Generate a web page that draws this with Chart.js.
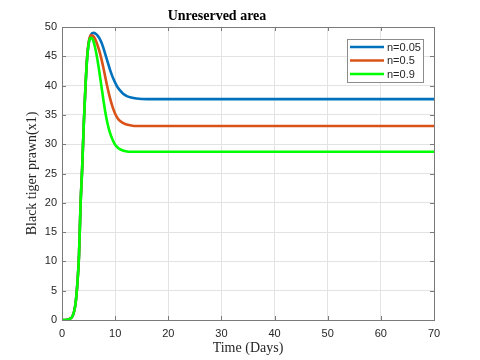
<!DOCTYPE html>
<html>
<head>
<meta charset="utf-8">
<script src="https://cdn.jsdelivr.net/npm/chart.js@4"></script>
<style>
  html, body { margin: 0; padding: 0; background: #fff; }
  #wrap { width: 480px; height: 360px; }
</style>
</head>
<body>
<div id="wrap"><canvas id="c" width="480" height="360"></canvas></div>
<script>
// ---- data ----
const seriesLabels = ['n=0.05', 'n=0.5', 'n=0.9'];

const tBlue = [0, 1, 1.5, 2, 2.5, 2.9, 3.2, 3.5, 3.8, 4.1, 4.4, 4.75, 5.05, 5.4, 5.9, 6.4, 6.8, 7.15, 7.5, 7.8, 8.1, 8.4, 8.7, 9.0, 9.3, 9.65, 10.0, 10.4, 10.9, 11.5, 12.2, 13.0, 14.0, 16.0, 20, 30, 40, 50, 60, 70];
const yBlue = [0, 0.05, 0.2, 0.7, 2.5, 6.3, 11.0, 19.9, 26.0, 33.5, 39.5, 45.0, 47.4, 48.6, 49.0, 48.8, 48.4, 47.9, 47.2, 46.4, 45.5, 44.6, 43.7, 42.8, 42.0, 41.2, 40.5, 39.8, 39.2, 38.6, 38.2, 37.95, 37.8, 37.7, 37.7, 37.7, 37.7, 37.7, 37.7, 37.7];

const tOrange = [0, 1, 1.5, 2, 2.5, 2.9, 3.2, 3.5, 3.8, 4.1, 4.4, 4.7, 5.0, 5.4, 5.8, 6.2, 6.6, 7.0, 7.4, 7.8, 8.2, 8.6, 9.0, 9.5, 10.0, 10.5, 11.0, 12.0, 13.0, 14.0, 20, 30, 40, 50, 60, 70];
const yOrange = [0, 0.05, 0.2, 0.7, 2.5, 6.3, 11.0, 19.9, 26.0, 33.5, 39.5, 44.6, 47.3, 48.6, 48.5, 48.0, 47.1, 46.0, 44.6, 43.0, 41.2, 39.5, 38.0, 36.4, 35.2, 34.4, 33.9, 33.4, 33.2, 33.1, 33.1, 33.1, 33.1, 33.1, 33.1, 33.1];

const tGreen = [0, 1, 1.5, 2, 2.5, 2.9, 3.2, 3.5, 3.8, 4.1, 4.4, 4.7, 5.0, 5.3, 5.6, 5.9, 6.2, 6.6, 7.0, 7.4, 7.8, 8.2, 8.6, 9.0, 9.5, 10.0, 10.5, 11.0, 12.0, 13.0, 20, 30, 40, 50, 60, 70];
const yGreen = [0, 0.05, 0.2, 0.7, 2.5, 6.3, 11.0, 19.9, 26.0, 33.5, 39.5, 44.3, 47.0, 48.1, 48.1, 47.6, 46.6, 44.8, 42.5, 40.0, 37.5, 35.2, 33.4, 32.0, 30.8, 29.9, 29.4, 29.1, 28.8, 28.7, 28.7, 28.7, 28.7, 28.7, 28.7, 28.7];

const xTicks = [0, 10, 20, 30, 40, 50, 60, 70];
const yTicks = [0, 5, 10, 15, 20, 25, 30, 35, 40, 45, 50];

const colors = ['#0072BD', '#D95319', '#00FF00'];

function toPoints(ts, ys) {
    return ts.map((t, i) => ({ x: t, y: ys[i] }));
}

// ---- plugin: MATLAB style box, inner ticks, legend ----
const matlabBox = {
    id: 'matlabBox',
    afterDatasetsDraw(chart) {
        const { ctx, chartArea: a, scales } = chart;
        ctx.save();
        ctx.strokeStyle = '#7a7a7a';
        ctx.lineWidth = 1;
        ctx.beginPath();
        xTicks.forEach(v => {
            const px = Math.round(scales.x.getPixelForValue(v)) + 0.5;
            ctx.moveTo(px, a.bottom); ctx.lineTo(px, a.bottom - 4);
            ctx.moveTo(px, a.top); ctx.lineTo(px, a.top + 4);
        });
        yTicks.forEach(v => {
            const py = Math.round(scales.y.getPixelForValue(v)) + 0.5;
            ctx.moveTo(a.left, py); ctx.lineTo(a.left + 4, py);
            ctx.moveTo(a.right, py); ctx.lineTo(a.right - 4, py);
        });
        ctx.stroke();
        ctx.strokeRect(Math.round(a.left) + 0.5, Math.round(a.top) + 0.5,
            Math.round(a.right - a.left), Math.round(a.bottom - a.top));

        // legend (series order as listed)
        const w = 76, h = 43;
        const lx = a.right - 11 - w, ly = a.top + 12;
        ctx.fillStyle = '#fff';
        ctx.fillRect(lx, ly, w, h);
        ctx.strokeStyle = '#8c8c8c';
        ctx.strokeRect(lx + 0.5, ly + 0.5, w, h);
        ctx.font = '11px "Liberation Sans", Arial, sans-serif';
        ctx.textBaseline = 'middle';
        chart.data.datasets.forEach((ds, i) => {
            const yy = ly + 8 + i * 13.5;
            ctx.strokeStyle = ds.borderColor;
            ctx.lineWidth = 2.5;
            ctx.beginPath();
            ctx.moveTo(lx + 3, yy); ctx.lineTo(lx + 37, yy);
            ctx.stroke();
            ctx.fillStyle = '#262626';
            ctx.fillText(ds.label, lx + 40, yy + 0.5);
        });
        ctx.restore();
    }
};

const ctx = document.getElementById('c').getContext('2d');
const chart = new Chart(ctx, {
    type: 'line',
    data: {
        datasets: [
            { label: seriesLabels[0], data: toPoints(tBlue, yBlue), borderColor: colors[0], order: 2 },
            { label: seriesLabels[1], data: toPoints(tOrange, yOrange), borderColor: colors[1], order: 1 },
            { label: seriesLabels[2], data: toPoints(tGreen, yGreen), borderColor: colors[2], order: 0 }
        ].map(d => Object.assign(d, {
            borderWidth: 2.6,
            pointRadius: 0,
            fill: false,
            cubicInterpolationMode: 'monotone'
        }))
    },
    options: {
        responsive: false,
        animation: false,
        devicePixelRatio: 1,
        layout: { padding: { left: 0, right: 46, top: 0, bottom: 0 } },
        plugins: {
            legend: { display: false },
            tooltip: { enabled: false },
            title: {
                display: true,
                text: 'Unreserved area',
                color: '#000',
                font: { family: '"Liberation Serif", "Times New Roman", serif', size: 14, weight: 'bold', lineHeight: 1.2 },
                padding: { top: 8.2, bottom: 2 }
            }
        },
        scales: {
            x: {
                type: 'linear',
                min: 0, max: 70,
                afterFit(s) { s.height = 40; },
                afterBuildTicks(s) { s.ticks = xTicks.map(v => ({ value: v })); },
                grid: { color: '#e3e3e3', drawTicks: false },
                border: { display: false },
                ticks: {
                    padding: 7,
                    color: '#262626',
                    maxRotation: 0,
                    font: { family: '"Liberation Sans", Arial, sans-serif', size: 11 }
                },
                title: {
                    display: true,
                    text: 'Time (Days)',
                    color: '#262626',
                    font: { family: '"Liberation Serif", "Times New Roman", serif', size: 14 },
                    padding: { top: 0, bottom: 3.5 }
                }
            },
            y: {
                min: 0, max: 50,
                afterFit(s) { s.width = 62; },
                afterBuildTicks(s) { s.ticks = yTicks.map(v => ({ value: v })); },
                grid: { color: '#e3e3e3', drawTicks: false },
                border: { display: false },
                ticks: {
                    padding: 5,
                    color: '#262626',
                    font: { family: '"Liberation Sans", Arial, sans-serif', size: 11 }
                },
                title: {
                    display: true,
                    text: 'Black tiger prawn(x1)',
                    color: '#262626',
                    font: { family: '"Liberation Serif", "Times New Roman", serif', size: 14 },
                    padding: { top: 24, bottom: 0 }
                }
            }
        }
    },
    plugins: [matlabBox]
});
</script>
</body>
</html>
